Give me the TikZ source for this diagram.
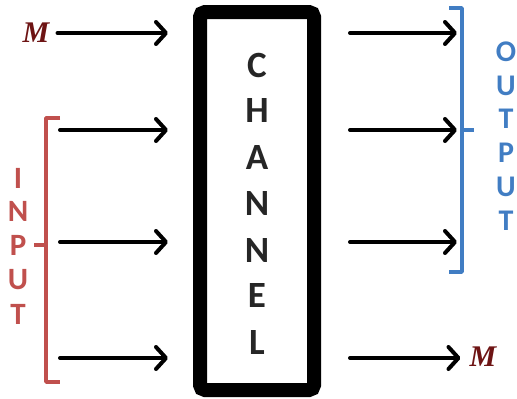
\documentclass[tikz,border=0pt]{standalone}
\usepackage{fontspec}
\setmainfont{Liberation Serif}
\newfontfamily\calib{Carlito}
\usetikzlibrary{arrows.meta}
\definecolor{inred}{RGB}{192,80,77}
\definecolor{outblue}{RGB}{65,125,195}
\definecolor{mred}{RGB}{110,20,20}
\tikzset{
  sig/.style={line width=4pt, line cap=round, -{Straight Barb[length=10pt,width=22pt,line cap=round,line join=round]}},
  chbox/.style={line width=14pt, rounded corners=5pt},
  chletter/.style={font=\calib\bfseries\fontsize{37}{37}\selectfont, inner sep=0pt, text=black!85},
  inletter/.style={font=\calib\bfseries\fontsize{31}{31}\selectfont, inner sep=0pt, text=inred},
  outletter/.style={font=\calib\bfseries\fontsize{30}{30}\selectfont, inner sep=0pt, text=outblue},
  mlabel/.style={font=\bfseries\itshape\fontsize{30}{30}\selectfont, inner sep=0pt, text=mred},
  inbrace/.style={draw=inred, line width=3.5pt},
  outbrace/.style={draw=outblue, line width=3.5pt}
}
\begin{document}
\begin{tikzpicture}[x=1pt,y=-1pt]
\useasboundingbox (0,0) rectangle (517,399);
% channel
\draw[chbox] (200,12) rectangle (314,390);
\foreach \l/\y [count=\i] in {C/65,H/111,A/158,N/204,N/250,E/296,L/342}
  \node[chletter] (ch\i) at (257,\y) {\l};
% left M
\node[mlabel] (mleft) at (36,33) {M};
\coordinate (lin1) at (168,33);
\draw[sig] (mleft.east) ++(8,0) coordinate (ls1) -- (lin1);
% input arrows
\foreach \y [count=\i from 2] in {130,242,358}{
  \coordinate (ls\i) at (60,\y);
  \coordinate (lin\i) at (168,\y);
  \draw[sig] (ls\i) -- (lin\i);
}
% output arrows
\foreach \y [count=\i] in {33,130,242}{
  \coordinate (rs\i) at (350,\y);
  \coordinate (rout\i) at (457,\y);
  \draw[sig] (rs\i) -- (rout\i);
}
\node[mlabel] (mright) at (483,357) {M};
\coordinate (rs4) at (350,358);
\draw[sig] (rs4) -- ([xshift=-9pt]mright.west |- rs4);
% input brace
\draw[inbrace, line join=round] (60,118) -- (46,118) -- (46,382) -- (60,382);
\draw[inbrace] (46,245) -- (34,245);
\foreach \l/\y [count=\i] in {I/178,N/211,P/245,U/280,T/314}
  \node[inletter] (in\i) at (18,\y) {\l};
% output brace
\draw[outbrace, line join=round] (449,8) -- (462,8) -- (462,272) -- (449,272);
\draw[outbrace] (462,130) -- (474,130);
\foreach \l/\y [count=\i] in {O/52,U/86,T/119,P/153,U/187,T/221}
  \node[outletter] (out\i) at (506,\y) {\l};
\end{tikzpicture}
\end{document}
